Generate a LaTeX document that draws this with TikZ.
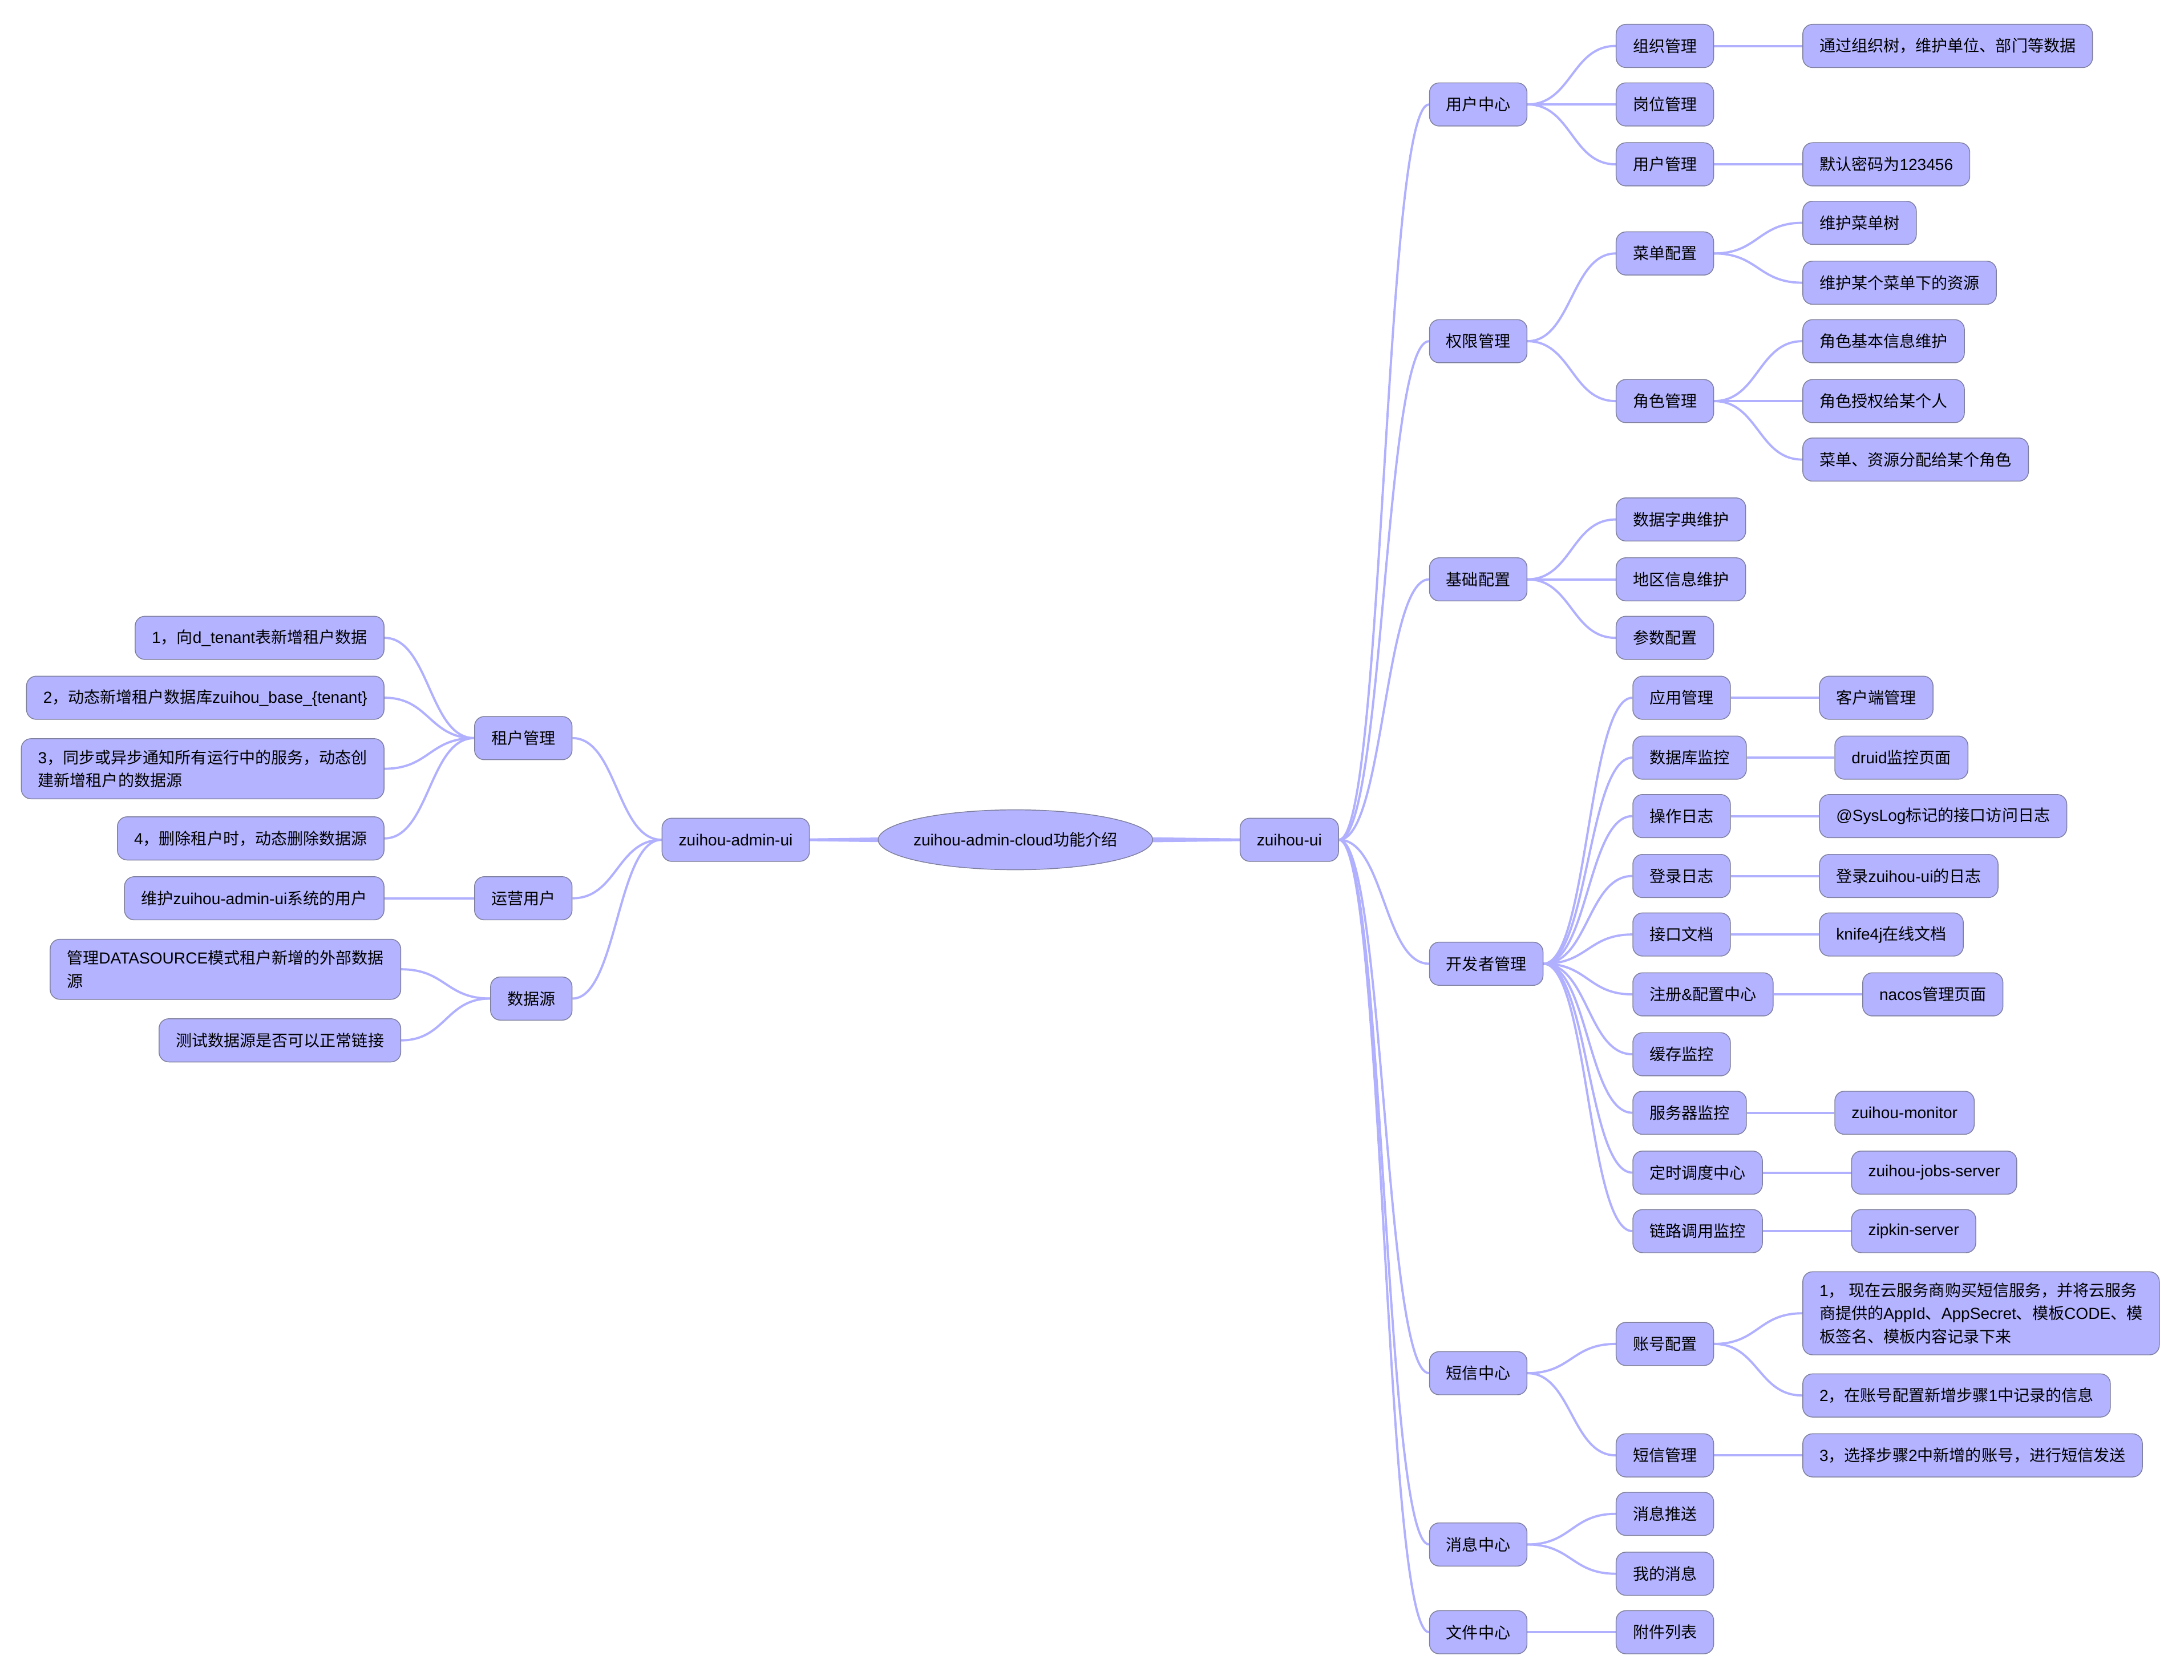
\documentclass[tikz,border=0pt]{standalone}
\usepackage{fontspec}
\usetikzlibrary{shapes.geometric,calc}
\setmainfont{Liberation Sans}
\newfontfamily\latinfont{Liberation Sans}
\newfontfamily\cjkfont{Noto Sans CJK SC}
\XeTeXinterchartokenstate=1
\newXeTeXintercharclass\CJKcls
\newcount\cjkc
\def\setcjkrange#1#2{\cjkc=#1\relax
  \loop\XeTeXcharclass\cjkc=\CJKcls\relax
  \ifnum\cjkc<#2\advance\cjkc by 1\repeat}
\setcjkrange{"3000}{"303F}
\setcjkrange{"4E00}{"9FFF}
\setcjkrange{"FF00}{"FFEF}
\XeTeXinterchartoks 0 \CJKcls = {\cjkfont}
\XeTeXinterchartoks 4095 \CJKcls = {\cjkfont}
\XeTeXinterchartoks \CJKcls 0 = {\latinfont}
\XeTeXinterchartoks \CJKcls 4095 = {\latinfont}
\definecolor{nodef}{HTML}{B3B3FF}
\definecolor{bordc}{HTML}{7F7F9F}
\definecolor{linec}{HTML}{B0B0FF}
\newcommand\nodefont{\fontsize{11.5}{16.5}\selectfont}
\pgfdeclarelayer{background}
\pgfsetlayers{background,main}
\tikzset{
  box/.style={draw=bordc, line width=0.6pt, fill=nodef, rounded corners=7pt,
    inner xsep=12pt, inner ysep=8pt, minimum height=31pt, font=\nodefont, align=left},
  rootbox/.style={ellipse, draw=bordc, line width=0.6pt, fill=nodef, inner xsep=-6pt, inner ysep=0pt,
    minimum width=197pt, minimum height=43pt, font=\nodefont},
  conn/.style={draw=linec, line width=1.6pt},
  rs/.style={box, anchor=west},
  ls/.style={box, anchor=east}
}
\newcommand\lnkR[2]{\draw[conn] let \p1=(#1.east), \p2=(#2.west) in (\p1) .. controls ({0.5*\x1+0.5*\x2},\y1) and ({0.5*\x1+0.5*\x2},\y2) .. (\p2);}
\newcommand\lnkL[2]{\draw[conn] let \p1=(#1.west), \p2=(#2.east) in (\p1) .. controls ({0.5*\x1+0.5*\x2},\y1) and ({0.5*\x1+0.5*\x2},\y2) .. (\p2);}
\begin{document}
\begin{tikzpicture}[x=1pt,y=-1pt]
\useasboundingbox (0,0) rectangle (1568,1206);
% root
\node[rootbox] (root) at (729,603) {zuihou-admin-cloud功能介绍};
\node[rs] (ui) at (890,603) {zuihou-ui};
\node[rs] (adm) at (475,603) {zuihou-admin-ui};
% right level 1
\node[rs] (uc) at (1026,75) {用户中心};
\node[rs] (qx) at (1026,245) {权限管理};
\node[rs] (jc) at (1026,416) {基础配置};
\node[rs] (kf) at (1026,692) {开发者管理};
\node[rs] (dx) at (1026,986) {短信中心};
\node[rs] (xx) at (1026,1109) {消息中心};
\node[rs] (wj) at (1026,1172) {文件中心};
% right level 2
\node[rs] (zz) at (1160,33) {组织管理};
\node[rs] (gw) at (1160,75) {岗位管理};
\node[rs] (yh) at (1160,118) {用户管理};
\node[rs] (cd) at (1160,182) {菜单配置};
\node[rs] (js) at (1160,288) {角色管理};
\node[rs] (sz) at (1160,373) {数据字典维护};
\node[rs] (dq) at (1160,416) {地区信息维护};
\node[rs] (cs) at (1160,458) {参数配置};
\node[rs] (yy) at (1172,501) {应用管理};
\node[rs] (sk) at (1172,544) {数据库监控};
\node[rs] (cz) at (1172,586) {操作日志};
\node[rs] (dl) at (1172,629) {登录日志};
\node[rs] (jk) at (1172,671) {接口文档};
\node[rs] (zc) at (1172,714) {注册\&配置中心};
\node[rs] (hc) at (1172,757) {缓存监控};
\node[rs] (fw) at (1172,799) {服务器监控};
\node[rs] (ds) at (1172,842) {定时调度中心};
\node[rs] (ll) at (1172,884) {链路调用监控};
\node[rs] (zh) at (1160,965) {账号配置};
\node[rs] (dg) at (1160,1045) {短信管理};
\node[rs] (ts) at (1160,1087) {消息推送};
\node[rs] (wd) at (1160,1130) {我的消息};
\node[rs] (fj) at (1160,1172) {附件列表};
% right level 3
\node[rs] (t1) at (1294,33) {通过组织树，维护单位、部门等数据};
\node[rs] (t2) at (1294,118) {默认密码为123456};
\node[rs] (t3) at (1294,160) {维护菜单树};
\node[rs] (t4) at (1294,203) {维护某个菜单下的资源};
\node[rs] (t5) at (1294,245) {角色基本信息维护};
\node[rs] (t6) at (1294,288) {角色授权给某个人};
\node[rs] (t7) at (1294,330) {菜单、资源分配给某个角色};
\node[rs] (d1) at (1306,501) {客户端管理};
\node[rs] (d2) at (1317,544) {druid监控页面};
\node[rs] (d3) at (1306,586) {@SysLog标记的接口访问日志};
\node[rs] (d4) at (1306,629) {登录zuihou-ui的日志};
\node[rs] (d5) at (1306,671) {knife4j在线文档};
\node[rs] (d6) at (1337,714) {nacos管理页面};
\node[rs] (d7) at (1317,799) {zuihou-monitor};
\node[rs] (d8) at (1329,842) {zuihou-jobs-server};
\node[rs] (d9) at (1329,884) {zipkin-server};
\node[rs] (s1) at (1294,943) {1， 现在云服务商购买短信服务，并将云服务\\商提供的AppId、AppSecret、模板CODE、模\\板签名、模板内容记录下来};
\node[rs] (s2) at (1294,1002) {2，在账号配置新增步骤1中记录的信息};
\node[rs] (s3) at (1294,1045) {3，选择步骤2中新增的账号，进行短信发送};
% left side
\node[ls] (zu) at (411,530) {租户管理};
\node[ls] (yg) at (411,645) {运营用户};
\node[ls] (sj) at (411,717) {数据源};
\node[ls] (l1) at (276,458) {1，向d\_tenant表新增租户数据};
\node[ls] (l2) at (276,501) {2，动态新增租户数据库zuihou\_base\_\{tenant\}};
\node[ls] (l3) at (276,552) {3，同步或异步通知所有运行中的服务，动态创\\建新增租户的数据源};
\node[ls] (l4) at (276,602) {4，删除租户时，动态删除数据源};
\node[ls] (l5) at (276,645) {维护zuihou-admin-ui系统的用户};
\node[ls] (l6) at (288,696) {管理DATASOURCE模式租户新增的外部数据\\源};
\node[ls] (l7) at (288,747) {测试数据源是否可以正常链接};
\begin{pgfonlayer}{background}
\fill[white] (0,0) rectangle (1568,1206);
\fill[linec] ([yshift=3pt]root.center) -- ([yshift=1pt]ui.west) -- ([yshift=-1pt]ui.west) -- ([yshift=-3pt]root.center) -- cycle;
\fill[linec] ([yshift=3pt]root.center) -- ([yshift=1pt]adm.east) -- ([yshift=-1pt]adm.east) -- ([yshift=-3pt]root.center) -- cycle;
\foreach \c in {uc,qx,jc,kf,dx,xx,wj} {\lnkR{ui}{\c}}
\foreach \c in {zz,gw,yh} {\lnkR{uc}{\c}}
\foreach \c in {cd,js} {\lnkR{qx}{\c}}
\foreach \c in {sz,dq,cs} {\lnkR{jc}{\c}}
\foreach \c in {yy,sk,cz,dl,jk,zc,hc,fw,ds,ll} {\lnkR{kf}{\c}}
\foreach \c in {zh,dg} {\lnkR{dx}{\c}}
\foreach \c in {ts,wd} {\lnkR{xx}{\c}}
\lnkR{wj}{fj}
\lnkR{zz}{t1}
\lnkR{yh}{t2}
\lnkR{cd}{t3}
\lnkR{cd}{t4}
\foreach \c in {t5,t6,t7} {\lnkR{js}{\c}}
\lnkR{yy}{d1}
\lnkR{sk}{d2}
\lnkR{cz}{d3}
\lnkR{dl}{d4}
\lnkR{jk}{d5}
\lnkR{zc}{d6}
\lnkR{fw}{d7}
\lnkR{ds}{d8}
\lnkR{ll}{d9}
\lnkR{zh}{s1}
\lnkR{zh}{s2}
\lnkR{dg}{s3}
\foreach \c in {zu,yg,sj} {\lnkL{adm}{\c}}
\foreach \c in {l1,l2,l3,l4} {\lnkL{zu}{\c}}
\lnkL{yg}{l5}
\lnkL{sj}{l6}
\lnkL{sj}{l7}
\end{pgfonlayer}
\end{tikzpicture}
\end{document}
